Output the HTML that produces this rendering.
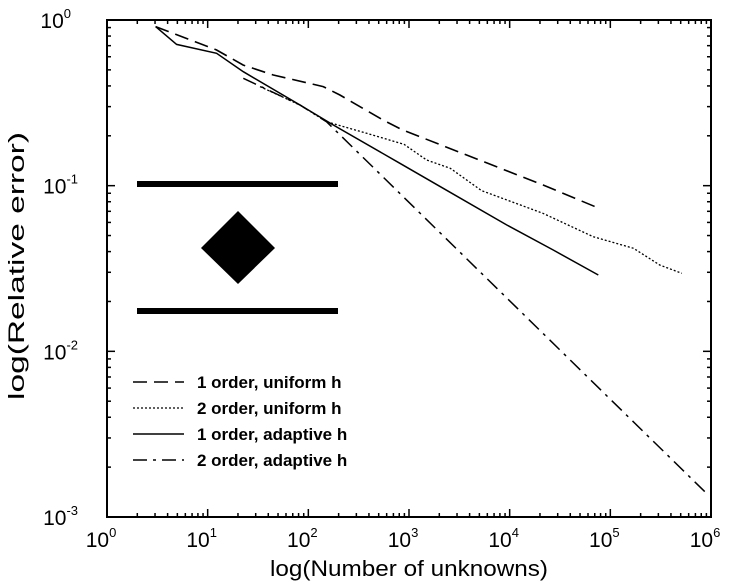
<!DOCTYPE html>
<html><head><meta charset="utf-8"><style>
html,body{margin:0;padding:0;background:#fff;}
svg{display:block;font-family:"Liberation Sans",Arial,sans-serif;}
</style></head><body>
<svg id="chart" width="730" height="586" viewBox="0 0 730 586"></svg>
<script>
// ---- data (log10 values) ----
const uni1X = [0.483,1.089,1.354,1.652,2.148,2.314,2.744,2.93,3.572,4.332,4.862];
const uni1Y = [-0.040,-0.181,-0.272,-0.332,-0.402,-0.453,-0.604,-0.662,-0.815,-0.996,-1.130];
const uni2X = [1.52,1.917,2.18,2.58,2.95,3.175,3.41,3.72,4.33,4.83,5.23,5.49,5.71];
const uni2Y = [-0.402,-0.513,-0.614,-0.684,-0.75,-0.845,-0.895,-1.03,-1.167,-1.308,-1.378,-1.479,-1.529];
const ada1X = [0.483,0.691,1.089,1.354,1.917,2.248,2.91,3.34,3.97,4.43,4.88];
const ada1Y = [-0.040,-0.147,-0.201,-0.312,-0.513,-0.634,-0.865,-1.016,-1.237,-1.388,-1.539];
const ada2X = [1.354,1.917,2.18,5.96];
const ada2Y = [-0.352,-0.513,-0.614,-2.86];
const xTicks = [0,1,2,3,4,5,6];
const yTicks = [0,-1,-2,-3];
const legendLabels = ["1 order, uniform h","2 order, uniform h","1 order, adaptive h","2 order, adaptive h"];

const L=107,R=711,T=20,B=517;
const sx = v => L + (v-0)/6*(R-L);
const sy = v => T + (0-v)/3*(B-T);
const NS="http://www.w3.org/2000/svg";
const svg=document.getElementById('chart');
function el(tag,attrs,parent){const e=document.createElementNS(NS,tag);for(const k in attrs)e.setAttribute(k,attrs[k]);(parent||svg).appendChild(e);return e;}

// frame
const frame=el('rect',{x:L,y:T,width:R-L,height:B-T,fill:'none',stroke:'#000','stroke-width':2});



// ticks
const tg=el('g',{stroke:'#000','stroke-width':1.5});


for(let d=0;d<6;d++){for(let m=1;m<10;m++){const v=d+Math.log10(m);const x=sx(v);const len=m===1?8:4;
  el('line',{x1:x,y1:B,x2:x,y2:B-len},tg);el('line',{x1:x,y1:T,x2:x,y2:T+len},tg);}}
for(let d=-3;d<0;d++){for(let m=1;m<10;m++){const v=d+Math.log10(m);const y=sy(v);const len=m===1?8:4;
  el('line',{x1:L,y1:y,x2:L+len,y2:y},tg);el('line',{x1:R,y1:y,x2:R-len,y2:y},tg);}}

// tick labels
xTicks.forEach(t=>{const tx=el('text',{x:sx(t)-6,y:547,'font-size':21,'text-anchor':'middle'});
  
  
  tx.textContent='10';const s=el('tspan',{dy:-10,'font-size':13},tx);s.textContent=String(t);});
yTicks.forEach(t=>{const tx=el('text',{x:62,y:sy(t)+8,'font-size':21,'text-anchor':'end'});
  
  
  tx.textContent='10';const s=el('tspan',{dy:-10,'font-size':13},tx);s.textContent=String(t);
  const w=t<0?16:9; tx.setAttribute('x',62+w);});

// axis titles
const xt=el('text',{x:409,y:576,'font-size':22,'text-anchor':'middle',textLength:278,lengthAdjust:'spacingAndGlyphs'});


xt.textContent='log(Number of unknowns)';
const yt=el('text',{x:0,y:0,'font-size':22,'text-anchor':'middle',transform:'translate(24,266) rotate(-90)',textLength:268,lengthAdjust:'spacingAndGlyphs'});


yt.textContent='log(Relative error)';

// series
const styles=[{d:'14,7',w:1.6},{d:'2,2',w:1.3},{d:'',w:1.5},{d:'14,6,3,6',w:1.5}];
const series=[[uni1X,uni1Y,'series-1-order-uniform'],[uni2X,uni2Y,'series-2-order-uniform'],[ada1X,ada1Y,'series-1-order-adaptive'],[ada2X,ada2Y,'series-2-order-adaptive']];
series.forEach((s,i)=>{const pts=s[0].map((x,j)=>sx(x).toFixed(1)+','+sy(s[1][j]).toFixed(1)).join(' ');
  const p=el('polyline',{points:pts,fill:'none',stroke:'#000','stroke-width':styles[i].w,'stroke-dasharray':styles[i].d});
  
  });

// symbol decoration
const b1=el('rect',{x:137,y:181,width:201,height:6,fill:'#000'});


const b2=el('rect',{x:137,y:308,width:201,height:6,fill:'#000'});


const dm=el('polygon',{points:'238,211 275,248 238,284 201,248',fill:'#000'});



// legend
const lg=el('g',{});


legendLabels.forEach((lab,i)=>{const y=382+i*26;
  const ln=el('line',{x1:133,y1:y,x2:184,y2:y,stroke:'#000','stroke-width':styles[i].w,'stroke-dasharray':styles[i].d},lg);
  
  
  const t=el('text',{x:197,y:y+6,'font-size':17,'font-weight':'bold'},lg);
  
  
  t.textContent=lab;});
</script>
</body></html>
